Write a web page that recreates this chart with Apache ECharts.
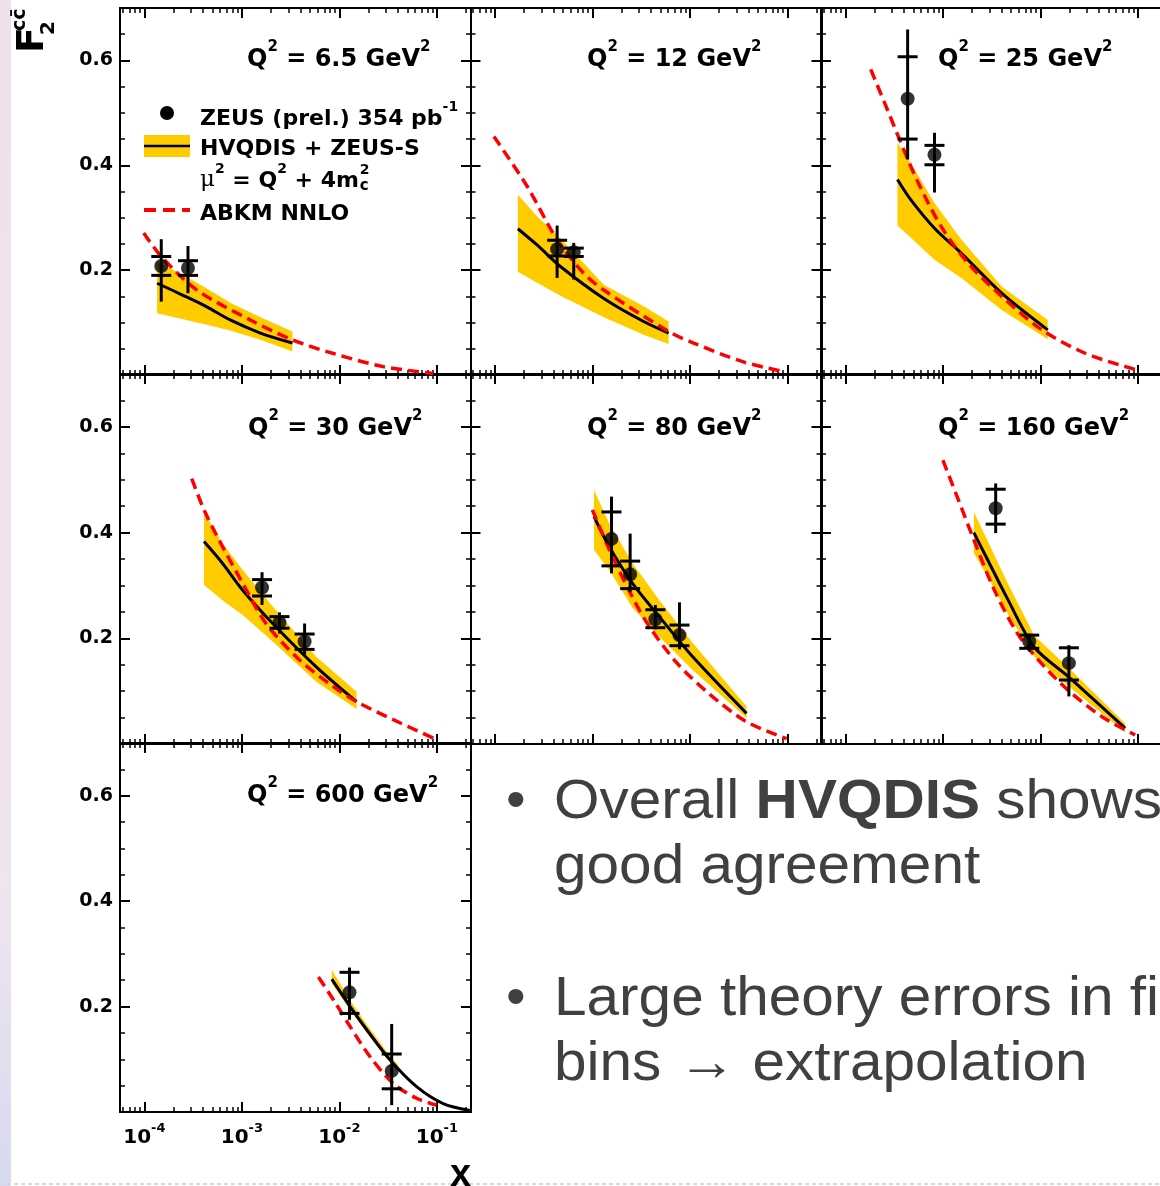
<!DOCTYPE html>
<html><head><meta charset="utf-8">
<script src="https://cdn.jsdelivr.net/npm/echarts@6/dist/echarts.min.js"></script>
<style>html,body{margin:0;padding:0;background:#fff}#c{width:1160px;height:1186px}</style>
</head><body><div id="c"></div>
<script>
// ---------------- data ----------------
const panelQ2 = ['6.5', '12', '25', '30', '80', '160', '600'];
const xTickValues = [1e-4, 1e-3, 1e-2, 1e-1];
const xTickExponents = ['-4', '-3', '-2', '-1'];
const yTickLabels = ['0.2', '0.4', '0.6'];

// Q2 = 6.5
const p1BandX = [1.35e-4, 2.43e-4, 4.37e-4, 7.59e-4, 1.55e-3, 3.30e-3];
const p1BandLow = [0.118, 0.107, 0.096, 0.085, 0.067, 0.045];
const p1BandHigh = [0.216, 0.192, 0.165, 0.138, 0.110, 0.083];
const p1LineX = [1.35e-4, 2.43e-4, 4.37e-4, 7.59e-4, 1.55e-3, 3.30e-3];
const p1LineY = [0.175, 0.153, 0.130, 0.105, 0.080, 0.061];
const p1AbkmX = [9.84e-5, 1.49e-4, 3.46e-4, 1.22e-3, 3.30e-3, 8.69e-3, 2.83e-2, 9.16e-2];
const p1AbkmY = [0.271, 0.226, 0.162, 0.105, 0.067, 0.041, 0.016, 0.003];
const p1DataX = [1.49e-4, 2.80e-4];
const p1DataY = [0.208, 0.204];
const p1StatLow = [0.190, 0.190], p1StatHigh = [0.226, 0.218];
const p1TotLow = [0.140, 0.156], p1TotHigh = [0.259, 0.246];

// Q2 = 12
const p2BandX = [1.72e-4, 2.71e-4, 4.70e-4, 1.31e-3, 3.36e-3, 6.05e-3];
const p2BandLow = [0.197, 0.176, 0.151, 0.110, 0.077, 0.059];
const p2BandHigh = [0.344, 0.303, 0.261, 0.172, 0.131, 0.102];
const p2LineX = [1.72e-4, 2.71e-4, 4.70e-4, 1.31e-3, 3.36e-3, 6.05e-3];
const p2LineY = [0.279, 0.248, 0.207, 0.146, 0.102, 0.080];
const p2AbkmX = [9.77e-5, 2.14e-4, 4.35e-4, 8.15e-4, 1.31e-3, 6.05e-3, 1.09e-2, 3.54e-2, 9.46e-2];
const p2AbkmY = [0.455, 0.360, 0.258, 0.194, 0.162, 0.083, 0.061, 0.025, 0.006];
const p2DataX = [4.35e-4, 6.44e-4];
const p2DataY = [0.240, 0.234];
const p2StatLow = [0.227, 0.226], p2StatHigh = [0.257, 0.242];
const p2TotLow = [0.185, 0.182], p2TotHigh = [0.285, 0.252];

// Q2 = 25
const p3BandX = [3.42e-4, 4.70e-4, 8.20e-4, 1.55e-3, 4.01e-3, 1.19e-2];
const p3BandLow = [0.285, 0.262, 0.220, 0.185, 0.124, 0.068];
const p3BandHigh = [0.443, 0.404, 0.328, 0.258, 0.169, 0.105];
const p3LineX = [3.42e-4, 4.70e-4, 8.20e-4, 1.55e-3, 4.01e-3, 1.19e-2];
const p3LineY = [0.373, 0.334, 0.280, 0.232, 0.156, 0.086];
const p3AbkmX = [1.82e-4, 2.70e-4, 3.71e-4, 5.51e-4, 9.62e-4, 1.82e-3, 4.01e-3, 1.04e-2, 2.92e-2, 9.62e-2];
const p3AbkmY = [0.583, 0.506, 0.443, 0.369, 0.283, 0.213, 0.150, 0.086, 0.041, 0.010];
const p3DataX = [4.35e-4, 8.20e-4];
const p3DataY = [0.527, 0.420];
const p3StatLow = [0.450, 0.401], p3StatHigh = [0.607, 0.438];
const p3TotLow = [0.411, 0.348], p3TotHigh = [0.659, 0.462];

// Q2 = 30
const p4BandX = [4.09e-4, 6.32e-4, 1.02e-3, 2.07e-3, 5.79e-3, 1.50e-2];
const p4BandLow = [0.301, 0.272, 0.244, 0.194, 0.118, 0.066];
const p4BandHigh = [0.439, 0.380, 0.329, 0.260, 0.165, 0.099];
const p4LineX = [4.09e-4, 6.32e-4, 1.02e-3, 2.07e-3, 5.79e-3, 1.50e-2];
const p4LineY = [0.383, 0.342, 0.291, 0.228, 0.146, 0.080];
const p4AbkmX = [3.06e-4, 4.09e-4, 5.83e-4, 1.02e-3, 1.77e-3, 3.90e-3, 8.61e-3, 1.50e-2, 3.57e-2, 9.25e-2];
const p4AbkmY = [0.502, 0.443, 0.386, 0.304, 0.228, 0.159, 0.109, 0.080, 0.046, 0.011];
const p4DataX = [1.61e-3, 2.43e-3, 4.40e-3];
const p4DataY = [0.296, 0.230, 0.194];
const p4StatLow = [0.280, 0.219, 0.179], p4StatHigh = [0.311, 0.241, 0.208];
const p4TotLow = [0.263, 0.209, 0.169], p4TotHigh = [0.325, 0.249, 0.228];

// Q2 = 80
const p5BandX = [1.04e-3, 1.49e-3, 2.58e-3, 4.86e-3, 1.07e-2, 3.81e-2];
const p5BandLow = [0.367, 0.329, 0.258, 0.203, 0.140, 0.049];
const p5BandHigh = [0.480, 0.417, 0.342, 0.272, 0.191, 0.071];
const p5LineX = [1.04e-3, 1.49e-3, 2.58e-3, 4.86e-3, 1.07e-2, 3.81e-2];
const p5LineY = [0.430, 0.373, 0.304, 0.241, 0.165, 0.058];
const p5AbkmX = [1.00e-3, 1.49e-3, 2.21e-3, 3.55e-3, 7.23e-3, 1.60e-2, 3.81e-2, 9.84e-2];
const p5AbkmY = [0.443, 0.368, 0.302, 0.232, 0.155, 0.094, 0.042, 0.010];
const p5DataX = [1.57e-3, 2.44e-3, 4.43e-3, 7.82e-3];
const p5DataY = [0.388, 0.321, 0.236, 0.206];
const p5StatLow = [0.337, 0.294, 0.220, 0.186], p5StatHigh = [0.439, 0.346, 0.254, 0.225];
const p5TotLow = [0.323, 0.288, 0.217, 0.179], p5TotHigh = [0.468, 0.398, 0.263, 0.268];

// Q2 = 160
const p6BandX = [2.08e-3, 2.85e-3, 4.59e-3, 8.67e-3, 1.92e-2, 7.40e-2];
const p6BandLow = [0.361, 0.318, 0.248, 0.165, 0.110, 0.022];
const p6BandHigh = [0.439, 0.386, 0.305, 0.205, 0.145, 0.039];
const p6LineX = [2.08e-3, 2.85e-3, 4.59e-3, 8.67e-3, 1.92e-2, 7.40e-2];
const p6LineY = [0.400, 0.350, 0.275, 0.183, 0.128, 0.030];
const p6AbkmX = [1.00e-3, 1.40e-3, 2.08e-3, 3.34e-3, 5.83e-3, 1.02e-2, 1.92e-2, 4.25e-2, 9.38e-2];
const p6AbkmY = [0.537, 0.468, 0.386, 0.293, 0.209, 0.153, 0.102, 0.052, 0.017];
const p6DataX = [3.48e-3, 7.69e-3, 1.96e-2];
const p6DataY = [0.446, 0.194, 0.153];
const p6StatLow = [0.416, 0.181, 0.121], p6StatHigh = [0.482, 0.206, 0.182];
const p6TotLow = [0.399, 0.175, 0.090], p6TotHigh = [0.493, 0.209, 0.187];

// Q2 = 600
const p7BandX = [8.36e-3, 1.29e-2, 1.91e-2, 3.30e-2, 3.98e-2];
const p7BandLow = [0.244, 0.193, 0.150, 0.094, 0.078];
const p7BandHigh = [0.270, 0.212, 0.166, 0.106, 0.090];
const p7LineX = [8.36e-3, 1.29e-2, 1.91e-2, 3.30e-2, 6.19e-2, 1.16e-1, 2.18e-1];
const p7LineY = [0.252, 0.200, 0.156, 0.099, 0.048, 0.016, 0.003];
const p7AbkmX = [6.10e-3, 8.69e-3, 1.29e-2, 2.06e-2, 3.57e-2, 6.19e-2, 9.93e-2];
const p7AbkmY = [0.256, 0.213, 0.162, 0.105, 0.054, 0.026, 0.013];
const p7DataX = [1.27e-2, 3.44e-2];
const p7DataY = [0.227, 0.078];
const p7StatLow = [0.187, 0.044], p7StatHigh = [0.265, 0.110];
const p7TotLow = [0.175, 0.013], p7TotHigh = [0.274, 0.167];

// ---------------- assembly ----------------
const panels = [
  {bx:p1BandX, bl:p1BandLow, bh:p1BandHigh, lx:p1LineX, ly:p1LineY, ax:p1AbkmX, ay:p1AbkmY, dx:p1DataX, dy:p1DataY, sl:p1StatLow, sh:p1StatHigh, tl:p1TotLow, th:p1TotHigh},
  {bx:p2BandX, bl:p2BandLow, bh:p2BandHigh, lx:p2LineX, ly:p2LineY, ax:p2AbkmX, ay:p2AbkmY, dx:p2DataX, dy:p2DataY, sl:p2StatLow, sh:p2StatHigh, tl:p2TotLow, th:p2TotHigh},
  {bx:p3BandX, bl:p3BandLow, bh:p3BandHigh, lx:p3LineX, ly:p3LineY, ax:p3AbkmX, ay:p3AbkmY, dx:p3DataX, dy:p3DataY, sl:p3StatLow, sh:p3StatHigh, tl:p3TotLow, th:p3TotHigh},
  {bx:p4BandX, bl:p4BandLow, bh:p4BandHigh, lx:p4LineX, ly:p4LineY, ax:p4AbkmX, ay:p4AbkmY, dx:p4DataX, dy:p4DataY, sl:p4StatLow, sh:p4StatHigh, tl:p4TotLow, th:p4TotHigh},
  {bx:p5BandX, bl:p5BandLow, bh:p5BandHigh, lx:p5LineX, ly:p5LineY, ax:p5AbkmX, ay:p5AbkmY, dx:p5DataX, dy:p5DataY, sl:p5StatLow, sh:p5StatHigh, tl:p5TotLow, th:p5TotHigh},
  {bx:p6BandX, bl:p6BandLow, bh:p6BandHigh, lx:p6LineX, ly:p6LineY, ax:p6AbkmX, ay:p6AbkmY, dx:p6DataX, dy:p6DataY, sl:p6StatLow, sh:p6StatHigh, tl:p6TotLow, th:p6TotHigh},
  {bx:p7BandX, bl:p7BandLow, bh:p7BandHigh, lx:p7LineX, ly:p7LineY, ax:p7AbkmX, ay:p7AbkmY, dx:p7DataX, dy:p7DataY, sl:p7StatLow, sh:p7StatHigh, tl:p7TotLow, th:p7TotHigh}
];

const X_MIN = Math.pow(10, -4.25), X_MAX = Math.pow(10, -0.65);
const xMinorTicks = [];
for (let d = -5; d <= -1; d++) for (let m = 2; m <= 9; m++) {
  const v = m * Math.pow(10, d);
  if (v > X_MIN && v < X_MAX) xMinorTicks.push(v);
}
const panelPos = [[0,0],[0,1],[0,2],[1,0],[1,1],[1,2],[2,0]];
const colLefts = [120, 470.5, 821];
const rowTops = [8, 374, 743];
const rowHeights = [367, 370, 369];
const FONT = 'DejaVu Sans';
const YELLOW = '#ffcc00';

const grids = [], xAxes = [], yAxes = [], series = [];
const axisLine = {show: true, onZero: false, lineStyle: {color: '#000', width: 2}};
panels.forEach((p, i) => {
  const [r, c] = panelPos[i];
  grids.push({left: colLefts[c], top: rowTops[r], width: 351, height: rowHeights[r],
    containLabel: false, outerBoundsMode: 'none'});
  const baseX = {gridIndex: i, type: 'log', logBase: 10, min: X_MIN, max: X_MAX,
    splitLine: {show: false}, minorTick: {show: false}, minorSplitLine: {show: false}, axisLine};
  ['bottom', 'top'].forEach(pos => {
    xAxes.push(Object.assign({}, baseX, {position: pos,
      axisTick: {show: true, inside: true, length: 10, lineStyle: {color: '#000', width: 2}, customValues: xTickValues},
      axisLabel: {show: pos === 'bottom' && i === 6, customValues: xTickValues, margin: 10,
        formatter: v => {
          const k = xTickValues.findIndex(t => Math.abs(Math.log10(t) - Math.log10(v)) < 1e-6);
          return '{b|10}{s|' + xTickExponents[k] + '}';
        },
        rich: {
          b: {fontFamily: FONT, fontWeight: 'bold', fontSize: 20, lineHeight: 26, verticalAlign: 'bottom', color: '#000'},
          s: {fontFamily: FONT, fontWeight: 'bold', fontSize: 13, lineHeight: 15, verticalAlign: 'top', color: '#000'}
        }}
    }));
    xAxes.push(Object.assign({}, baseX, {position: pos, axisLine: {show: false, onZero: false},
      axisTick: {show: true, inside: true, length: 5, lineStyle: {color: '#000', width: 1.5}, customValues: xMinorTicks},
      axisLabel: {show: false}}));
  });
  ['left', 'right'].forEach(pos => {
    yAxes.push({gridIndex: i, type: 'value', min: 0, max: 0.7, interval: 0.2, position: pos, axisLine,
      splitLine: {show: false},
      axisTick: {show: true, inside: true, length: 10, lineStyle: {color: '#000', width: 2}},
      minorTick: {show: true, splitNumber: 4, length: 5, lineStyle: {color: '#000', width: 1.5}},
      axisLabel: {show: pos === 'left' && c === 0, margin: 7, color: '#000', fontFamily: FONT, fontWeight: 'bold', fontSize: 19,
        formatter: v => { const s = v.toFixed(1); return yTickLabels.includes(s) ? s : ''; }}
    });
  });
  const xi = i * 4, yi = i * 2;
  const common = {xAxisIndex: xi, yAxisIndex: yi, symbol: 'none', silent: true, animation: false};
  // HVQDIS uncertainty band as one polygon placed through the axes' scales
  series.push({type: 'custom', xAxisIndex: xi, yAxisIndex: yi, z: 1, silent: true, animation: false, clip: true,
    data: p.bx.map((x, k) => [x, p.bl[k], p.bh[k]]),
    encode: {x: 0, y: [1, 2]},
    renderItem: (params, api) => {
      if (params.dataIndexInside !== 0) return null;
      const n = params.dataInsideLength;
      const pts = [];
      for (let j = 0; j < n; j++) pts.push(api.coord([api.value(0, j), api.value(2, j)]));
      for (let j = n - 1; j >= 0; j--) pts.push(api.coord([api.value(0, j), api.value(1, j)]));
      return {type: 'polygon', shape: {points: pts}, style: {fill: YELLOW}};
    }});
  series.push(Object.assign({}, common, {type: 'line', z: 3, smooth: 0.3,
    data: p.lx.map((x, k) => [x, p.ly[k]]), lineStyle: {color: '#000', width: 3}}));
  series.push(Object.assign({}, common, {type: 'line', z: 4, smooth: 0.3,
    data: p.ax.map((x, k) => [x, p.ay[k]]), lineStyle: {color: '#ff0000', width: 3.5, type: [11, 6]}}));
  series.push({type: 'custom', xAxisIndex: xi, yAxisIndex: yi, z: 5, silent: true, animation: false,
    data: p.dx.map((x, k) => [x, p.sl[k], p.sh[k], p.tl[k], p.th[k]]),
    encode: {x: 0, y: [3, 4]},
    renderItem: (params, api) => {
      const x = api.value(0);
      const t1 = api.coord([x, api.value(4)]), t0 = api.coord([x, api.value(3)]);
      const s0 = api.coord([x, api.value(1)]), s1 = api.coord([x, api.value(2)]);
      const st = {stroke: '#000', lineWidth: 3};
      return {type: 'group', children: [
        {type: 'line', shape: {x1: t0[0], y1: t0[1], x2: t1[0], y2: t1[1]}, style: st},
        {type: 'line', shape: {x1: s0[0] - 10, y1: s0[1], x2: s0[0] + 10, y2: s0[1]}, style: st},
        {type: 'line', shape: {x1: s1[0] - 10, y1: s1[1], x2: s1[0] + 10, y2: s1[1]}, style: st}
      ]};
    }});
  series.push({type: 'scatter', xAxisIndex: xi, yAxisIndex: yi, z: 6, silent: true, animation: false,
    symbol: 'circle', symbolSize: 14, itemStyle: {color: '#000'},
    data: p.dx.map((x, k) => [x, p.dy[k]])});
});

// ---------------- text / legend graphics ----------------
const richQ = {
  m: {fontFamily: FONT, fontWeight: 'bold', fontSize: 24, lineHeight: 32, verticalAlign: 'bottom', fill: '#000'},
  s: {fontFamily: FONT, fontWeight: 'bold', fontSize: 15, lineHeight: 18, verticalAlign: 'top', fill: '#000'}
};
const titleX = [247, 587, 938, 248, 587, 938, 247];
const titleY = [55.5, 55.5, 55.5, 424.5, 424.5, 424.5, 792];
const graphic = [];
graphic.push({type: 'rect', silent: true, z: -10, shape: {x: 0, y: 0, width: 11, height: 1186},
  style: {fill: new echarts.graphic.LinearGradient(0, 0, 0, 1, [
    {offset: 0, color: 'rgba(225,185,210,0.45)'}, {offset: 0.75, color: 'rgba(215,190,215,0.4)'},
    {offset: 1, color: 'rgba(175,180,225,0.5)'}])}});
graphic.push({type: 'line', silent: true, z: -10, shape: {x1: 0, y1: 1184, x2: 1160, y2: 1184},
  style: {stroke: '#d6d6e2', lineWidth: 2, lineDash: [4, 3]}});
panelQ2.forEach((q, i) => {
  graphic.push({type: 'text', x: titleX[i], y: titleY[i], z: 10, silent: true,
    style: {text: '{m|Q}{s|2}{m| = ' + q + ' GeV}{s|2}', rich: richQ, verticalAlign: 'middle', textAlign: 'left'}});
});
// legend (panel 1)
const richL = {
  m: {fontFamily: FONT, fontWeight: 'bold', fontSize: 22, lineHeight: 30, verticalAlign: 'bottom', fill: '#000'},
  s: {fontFamily: FONT, fontWeight: 'bold', fontSize: 14, lineHeight: 17, verticalAlign: 'top', fill: '#000'},
  g: {fontFamily: 'DejaVu Serif', fontSize: 23, lineHeight: 30, verticalAlign: 'bottom', fill: '#000'}
};
graphic.push({type: 'circle', shape: {cx: 167, cy: 113, r: 7}, style: {fill: '#000'}, z: 10, silent: true});
graphic.push({type: 'text', x: 200, y: 115, z: 10, silent: true,
  style: {text: '{m|ZEUS (prel.) 354 pb}{s|-1}', rich: richL, verticalAlign: 'middle'}});
graphic.push({type: 'rect', shape: {x: 144, y: 135, width: 46, height: 22}, style: {fill: YELLOW}, z: 10, silent: true});
graphic.push({type: 'line', shape: {x1: 144, y1: 146, x2: 190, y2: 146}, style: {stroke: '#000', lineWidth: 2.5}, z: 11, silent: true});
graphic.push({type: 'text', x: 200, y: 145.5, z: 10, silent: true,
  style: {text: '{m|HVQDIS + ZEUS-S}', rich: richL, verticalAlign: 'middle'}});
const muText = '{g|μ}{s|2}{m| = Q}{s|2}{m| + 4m}';
graphic.push({type: 'text', x: 200, y: 177, z: 10, silent: true,
  style: {text: muText, rich: richL, verticalAlign: 'middle'}});
const mc = document.createElement('canvas').getContext('2d');
function w(t, f) { mc.font = f; return mc.measureText(t).width; }
const muW = w('μ', '23px "DejaVu Serif"') + 2 * w('2', 'bold 14px "DejaVu Sans"') +
  w(' = Q', 'bold 22px "DejaVu Sans"') + w(' + 4m', 'bold 22px "DejaVu Sans"');
graphic.push({type: 'text', x: 200 + muW + 1, y: 170, z: 10, silent: true,
  style: {text: '2', fontFamily: FONT, fontWeight: 'bold', fontSize: 14, fill: '#000', verticalAlign: 'middle'}});
graphic.push({type: 'text', x: 200 + muW + 1, y: 186, z: 10, silent: true,
  style: {text: 'c', fontFamily: FONT, fontWeight: 'bold', fontSize: 15, fill: '#000', verticalAlign: 'middle'}});
graphic.push({type: 'line', shape: {x1: 144, y1: 210, x2: 190, y2: 210}, style: {stroke: '#ff0000', lineWidth: 4, lineDash: [12, 7]}, z: 10, silent: true});
graphic.push({type: 'text', x: 200, y: 210.5, z: 10, silent: true,
  style: {text: '{m|ABKM NNLO}', rich: richL, verticalAlign: 'middle'}});
// axis titles
graphic.push({type: 'text', x: 450, y: 1176, z: 10, silent: true,
  style: {text: 'x', fontFamily: 'Liberation Sans', fontWeight: 'bold', fontSize: 38, fill: '#000', verticalAlign: 'middle'}});
graphic.push({type: 'text', x: 33, y: 53, rotation: Math.PI / 2, z: 10, silent: true,
  style: {text: 'F', fontFamily: FONT, fontWeight: 'bold', fontSize: 38, fill: '#000', verticalAlign: 'middle'}});
graphic.push({type: 'text', x: 49, y: 35, rotation: Math.PI / 2, z: 10, silent: true,
  style: {text: '2', fontFamily: FONT, fontWeight: 'bold', fontSize: 20, fill: '#000', verticalAlign: 'middle'}});
graphic.push({type: 'text', x: 20, y: 31, rotation: Math.PI / 2, z: 10, silent: true,
  style: {text: 'cc\u0304', fontFamily: FONT, fontWeight: 'bold', fontSize: 19, fill: '#000', verticalAlign: 'middle'}});
// bullet text
const TXT = '#404040';
const richB = {
  r: {fontFamily: 'Liberation Sans', fontSize: 56, fill: TXT},
  b: {fontFamily: 'Liberation Sans', fontWeight: 'bold', fontSize: 56, fill: TXT}
};
const bulletLines = [
  ['{r|Overall }{b|HVQDIS}{r| shows}', 803],
  ['{r|good agreement}', 868],
  ['{r|Large theory errors in first}', 1000],
  ['{r|bins \u2192 extrapolation}', 1065]
];
bulletLines.forEach(([t, y]) => {
  graphic.push({type: 'text', x: 554, y: y, scaleX: 1.045, z: 10, silent: true,
    style: {text: t, rich: richB, verticalAlign: 'middle'}});
});
[803, 1000].forEach(y => {
  graphic.push({type: 'text', x: 506, y: y, z: 10, silent: true,
    style: {text: '\u2022', fontFamily: 'Liberation Sans', fontSize: 56, fill: TXT, verticalAlign: 'middle'}});
});

const chart = echarts.init(document.getElementById('c'), null, {renderer: 'canvas'});
chart.setOption({
  animation: false,
  backgroundColor: '#fff',
  grid: grids, xAxis: xAxes, yAxis: yAxes, series: series, graphic: graphic
});
</script></body></html>
